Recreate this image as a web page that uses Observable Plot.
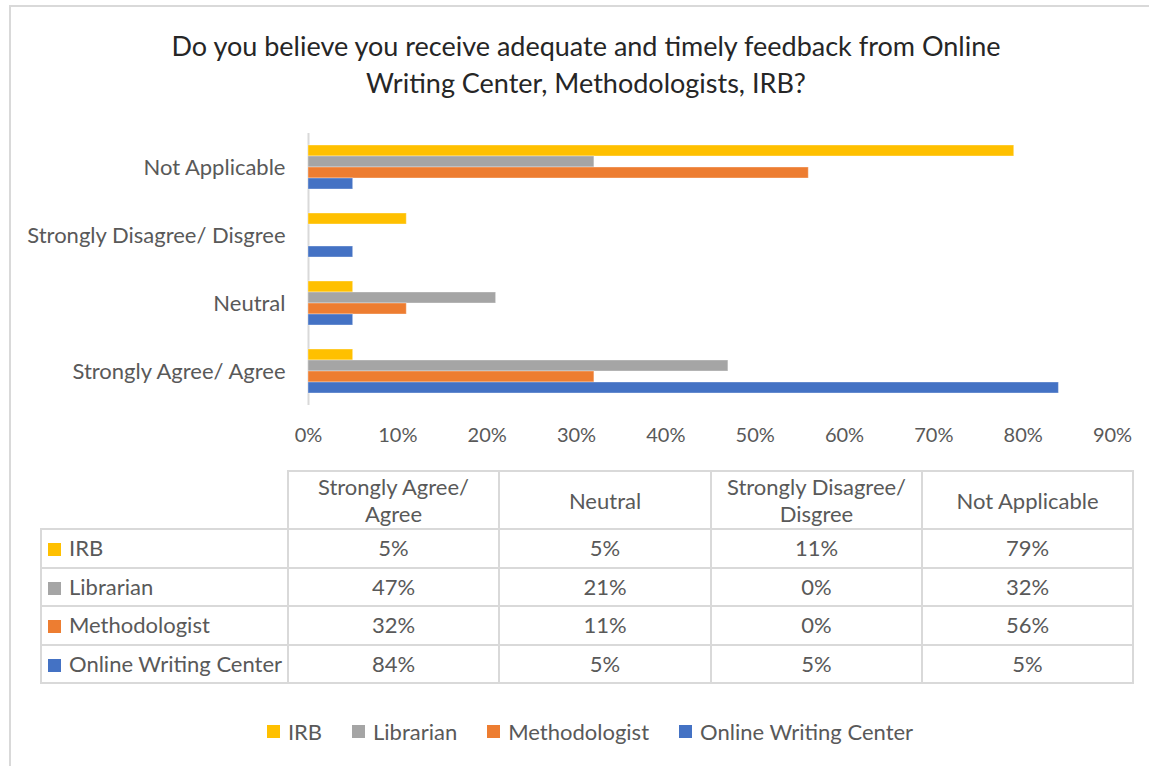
<!DOCTYPE html>
<html><head><meta charset="utf-8">
<script src="https://cdn.jsdelivr.net/npm/d3@7"></script>
<script src="https://cdn.jsdelivr.net/npm/@observablehq/plot@0.6"></script>
<style>
body{margin:0;background:#fff;font-family:Lato,"Open Sans",sans-serif;}
#wrap{position:relative;width:1149px;height:766px;overflow:hidden;background:#fff;}
#frame{position:absolute;left:9px;top:5px;width:1170px;height:790px;border:2px solid #d9d9d9;box-sizing:border-box;}
#title{position:absolute;left:0;width:1172px;top:27px;text-align:center;font-size:27px;line-height:37px;color:#262626;}
#chart{position:absolute;left:0;top:0;}
#tbl{position:absolute;left:40px;top:470px;border-collapse:collapse;font-size:22px;color:#595959;}
#tbl td,#tbl th{border:2px solid #d9d9d9;padding:0;text-align:center;font-weight:normal;}
#tbl th{height:56px;line-height:27px;}
#tbl td{height:36.5px;line-height:26px;}
#tbl th.blank{border-top:none;border-left:none;}
#tbl td.name{text-align:left;padding-left:6px;white-space:nowrap;}
.sw{display:inline-block;width:13px;height:13px;margin-right:8px;vertical-align:0px;}
#legend{position:absolute;top:718px;left:0;width:1180px;display:flex;justify-content:center;gap:30px;font-size:22px;color:#595959;}
#legend span.item{display:flex;align-items:center;}
</style></head>
<body><div id="wrap">
<div id="frame"></div>
<div id="title">Do you believe you receive adequate and timely feedback from Online<br>Writing Center, Methodologists, IRB?</div>
<div id="chart"></div>
<table id="tbl"></table>
<div id="legend"></div>
</div>
<script>
// Data
const categories = ["Strongly Agree/ Agree", "Neutral", "Strongly Disagree/ Disgree", "Not Applicable"];
const headerLabels = [["Strongly Agree/", "Agree"], ["Neutral"], ["Strongly Disagree/", "Disgree"], ["Not Applicable"]];
const seriesNames = ["IRB", "Librarian", "Methodologist", "Online Writing Center"];
const irb = [5, 5, 11, 79];
const librarian = [47, 21, 0, 32];
const methodologist = [32, 11, 0, 56];
const onlineWritingCenter = [84, 5, 5, 5];
const xTicks = [0, 10, 20, 30, 40, 50, 60, 70, 80, 90];
const colors = ["#FFC000", "#A5A5A5", "#ED7D31", "#4472C4"];

const seriesValues = [irb, librarian, methodologist, onlineWritingCenter];
const rows = [];
seriesNames.forEach((s, i) => categories.forEach((c, j) => rows.push({series: s, category: c, value: seriesValues[i][j]})));

const chart = Plot.plot({
  width: 1149,
  height: 460,
  marginLeft: 308,
  marginRight: 37,
  marginTop: 131,
  marginBottom: 54,
  style: {fontFamily: "Lato, 'Open Sans', sans-serif", fontSize: "20px", color: "#595959", background: "transparent"},
  x: {domain: [0, 90], ticks: xTicks, tickFormat: d => d + "%", tickSize: 0, tickPadding: 22, label: null, axis: "bottom"},
  y: {domain: seriesNames, axis: null, paddingInner: 0, paddingOuter: 1},
  fy: {domain: categories.slice().reverse(), axis: "left", label: null, tickSize: 0, tickPadding: 23, padding: 0},
  color: {domain: seriesNames, range: colors},
  marks: [
    Plot.ruleX([0], {stroke: "#d9d9d9", strokeWidth: 2}),
    Plot.barX(rows, {x: "value", y: "series", fy: "category", fill: "series", stroke: "white", strokeOpacity: 0.35, strokeWidth: 1})
  ]
});
// larger category labels on the left axis
chart.querySelectorAll('[aria-label^="fy-axis"]').forEach(g => {
  g.setAttribute("font-size", "22");
  g.querySelectorAll("text").forEach(t => t.setAttribute("font-size", "22"));
});
document.getElementById("chart").appendChild(chart);

// Data table
const tbl = document.getElementById("tbl");
const colg = document.createElement("colgroup");
[247, 211, 212, 211, 211].forEach(w => { const c = document.createElement("col"); c.style.width = w + "px"; colg.appendChild(c); });
tbl.appendChild(colg);
const hr = document.createElement("tr");
const blank = document.createElement("th"); blank.className = "blank"; hr.appendChild(blank);
headerLabels.forEach(lines => { const th = document.createElement("th"); th.innerHTML = lines.join("<br>"); hr.appendChild(th); });
tbl.appendChild(hr);
seriesNames.forEach((s, i) => {
  const tr = document.createElement("tr");
  const n = document.createElement("td"); n.className = "name";
  n.innerHTML = `<span class="sw" style="background:${colors[i]}"></span>${s}`;
  tr.appendChild(n);
  seriesValues[i].forEach(v => { const td = document.createElement("td"); td.textContent = v + "%"; tr.appendChild(td); });
  tbl.appendChild(tr);
});

// Legend
const lg = document.getElementById("legend");
seriesNames.forEach((s, i) => {
  const it = document.createElement("span"); it.className = "item";
  it.innerHTML = `<span class="sw" style="background:${colors[i]}"></span>${s}`;
  lg.appendChild(it);
});
</script>
</body></html>
